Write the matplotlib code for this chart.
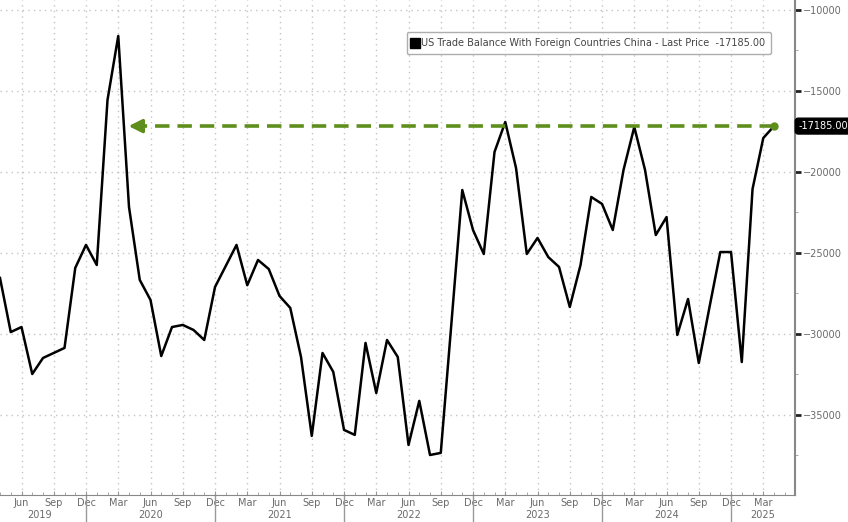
import matplotlib.pyplot as plt
import numpy as np
from matplotlib.lines import Line2D

# monthly values, Apr 2019 .. Apr 2025 (USD mn)
balance = [
    -26560, -29900, -29590, -32490, -31500, -31190, -30880, -25940, -24520, -25760,
    -15570, -11620, -22180, -26680, -27920, -31380, -29590, -29460, -29770, -30390,
    -27120, -25820, -24520, -27010, -25450, -26010, -27670, -28410, -31440, -36310,
    -31190, -32360, -35940, -36250, -30570, -33660, -30390, -31440, -36870, -34150,
    -37490, -37360, -29280, -21130, -23600, -25080, -18780, -16930, -19770, -25080,
    -24090, -25270, -25880, -28350, -25760, -21560, -21990, -23600, -19890, -17240,
    -19890, -23910, -22800, -30080, -27860, -31810, -28350, -24960, -24960, -31750,
    -21070, -17920, -17185,
]
month_labels = ["Jun", "Sep", "Dec", "Mar"]
years = ["2019", "2020", "2021", "2022", "2023", "2024", "2025"]
year_pos = [3.7, 14, 26, 38, 50, 62, 70.9]
series_name = "US Trade Balance With Foreign Countries China - Last Price"

x = np.arange(len(balance))
last = balance[-1]
green = "#5e8f1c"
grey = "#6a6a6a"

fig = plt.figure(figsize=(8.48, 5.22), dpi=100)
ax = fig.add_axes([0, 0.0517, 0.9375, 0.9483])

ax.plot(x, balance, color="black", lw=1.8, zorder=3)

# dashed arrow back to the Mar 2020 level
ax.plot([x[-1], 13.3], [last, last], color=green, lw=2.6, ls=(0, (4, 2.2)), zorder=4)
ax.annotate("", xy=(11.7, last), xytext=(13.6, last),
            arrowprops=dict(arrowstyle="-|>,head_length=0.8,head_width=0.4",
                            color=green, lw=2.4), zorder=4)
ax.plot(x[-1], last, "o", color=green, ms=5, zorder=5)

ax.set_xlim(0, 73.95)
ax.set_ylim(-39960, -9400)

# quarterly grid / labels
qticks = np.arange(2, 74, 3)
ax.set_xticks(qticks)
ax.set_xticklabels([month_labels[i % 4] for i in range(len(qticks))])
ax.set_xticks(np.arange(0, 74), minor=True)
ax.set_yticks(np.arange(-35000, -9999, 5000))
ax.set_yticks(np.arange(-37500, -9999, 2500), minor=True)
ax.grid(True, which="major", color="#c4c4c4", ls=(0, (1, 3)), lw=1)

ax.yaxis.tick_right()
ax.tick_params(axis="y", which="major", direction="out", length=4, width=2,
               color="#222222", labelsize=7, labelcolor=grey, pad=2)
ax.tick_params(axis="y", which="minor", direction="out", length=2, color="#999999")
ax.tick_params(axis="x", which="major", direction="in", length=3, color="#999999",
               labelsize=7, labelcolor=grey, pad=2)
ax.tick_params(axis="x", which="minor", direction="in", length=2, color="#999999")

for s in ["left", "top"]:
    ax.spines[s].set_visible(False)
ax.spines["right"].set_color("#888888")
ax.spines["right"].set_linewidth(1.5)
ax.spines["bottom"].set_color("#888888")

for xp, yr in zip(year_pos, years):
    ax.text(xp, -0.031, yr, transform=ax.get_xaxis_transform(), ha="center",
            va="top", fontsize=7, color=grey)
for sep in [8, 20, 32, 44, 56, 68]:
    ax.plot([sep, sep], [0, -0.06], transform=ax.get_xaxis_transform(),
            color="#999999", lw=1, clip_on=False)

# last price tag
ax.text(1.004, last, f"{last:.2f}", transform=ax.get_yaxis_transform(),
        ha="left", va="center", fontsize=7, color="white",
        bbox=dict(boxstyle="round,pad=0.3", fc="black", ec="black"))

leg = ax.legend([Line2D([], [], marker="s", color="black", ls="none", ms=7)],
                [f"{series_name}  {last:.2f}"], loc="upper right",
                bbox_to_anchor=(0.976, 0.945), fontsize=7, frameon=True,
                handlelength=0.6, handletextpad=0.3, borderpad=0.6, fancybox=True)
leg.get_frame().set_edgecolor("#9a9a9a")
leg.get_frame().set_linewidth(1)
for t in leg.get_texts():
    t.set_color("#444444")

fig.savefig("out.png", dpi=100)
